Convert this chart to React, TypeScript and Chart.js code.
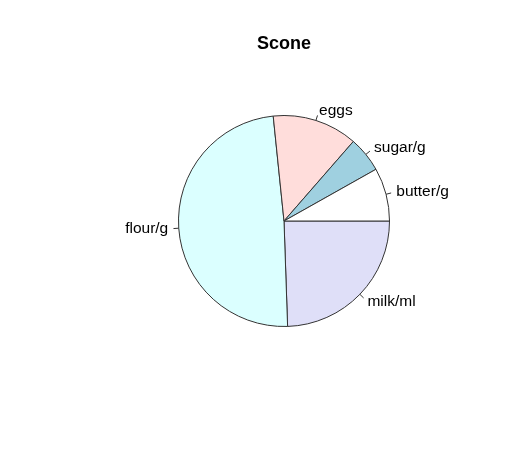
import React, { useEffect, useRef } from "react";
import { Chart, registerables } from "chart.js";

Chart.register(...registerables);

const TITLE = "Scone";
const categories = ["butter/g", "sugar/g", "eggs", "flour/g", "milk/ml"];
const amounts = [75, 50, 120, 450, 225];
const sliceColors = ["#FFFFFF", "#9FD0E0", "#FFDDDB", "#DBFFFF", "#DFDFF8"];

const FONT = '"Liberation Sans", Arial, Helvetica, sans-serif';

const labelPlugin = {
  id: "rPieLabels",
  afterDraw(chart: any) {
    const ctx = chart.ctx;
    const meta = chart.getDatasetMeta(0);
    const labels = chart.data.labels as string[];
    ctx.save();
    // title
    ctx.fillStyle = "#000";
    ctx.font = `bold 18px ${FONT}`;
    ctx.textAlign = "center";
    ctx.textBaseline = "alphabetic";
    const ca = chart.chartArea;
    ctx.fillText(TITLE, (ca.left + ca.right) / 2, 48.5);
    // slice labels
    ctx.font = `15.5px ${FONT}`;
    ctx.textBaseline = "middle";
    ctx.strokeStyle = "#333";
    ctx.lineWidth = 1;
    meta.data.forEach((arc: any, i: number) => {
      const { x, y, startAngle, endAngle, outerRadius } = arc.getProps(
        ["x", "y", "startAngle", "endAngle", "outerRadius"],
        true
      );
      const mid = (startAngle + endAngle) / 2;
      const c = Math.cos(mid);
      const s = Math.sin(mid);
      ctx.beginPath();
      ctx.moveTo(x + outerRadius * c, y + outerRadius * s);
      ctx.lineTo(x + outerRadius * 1.05 * c, y + outerRadius * 1.05 * s);
      ctx.stroke();
      ctx.textAlign = c >= 0 ? "left" : "right";
      ctx.fillText(labels[i], x + outerRadius * 1.1 * c, y + outerRadius * 1.1 * s);
    });
    ctx.restore();
  },
};

export default function App() {
  const ref = useRef<HTMLCanvasElement | null>(null);
  useEffect(() => {
    if (!ref.current) return;
    const labels = [...categories].reverse();
    const data = [...amounts].reverse();
    const colors = [...sliceColors].reverse();
    const chart = new Chart(ref.current, {
      type: "pie",
      data: {
        labels,
        datasets: [
          {
            data,
            backgroundColor: colors,
            borderColor: "#333333",
            borderWidth: 1,
            hoverOffset: 0,
          },
        ],
      },
      options: {
        responsive: false,
        animation: false,
        rotation: 90,
        layout: { padding: { left: 178, right: 139, top: 115, bottom: 135 } },
        plugins: {
          legend: { display: false },
          tooltip: { enabled: false },
          title: { display: false },
        },
      },
      plugins: [labelPlugin],
    });
    return () => chart.destroy();
  }, []);
  return (
    <div style={{ position: "absolute", left: 0, top: 0, width: 529, height: 462, background: "#fff" }}>
      <canvas ref={ref} width={529} height={462} />
    </div>
  );
}
